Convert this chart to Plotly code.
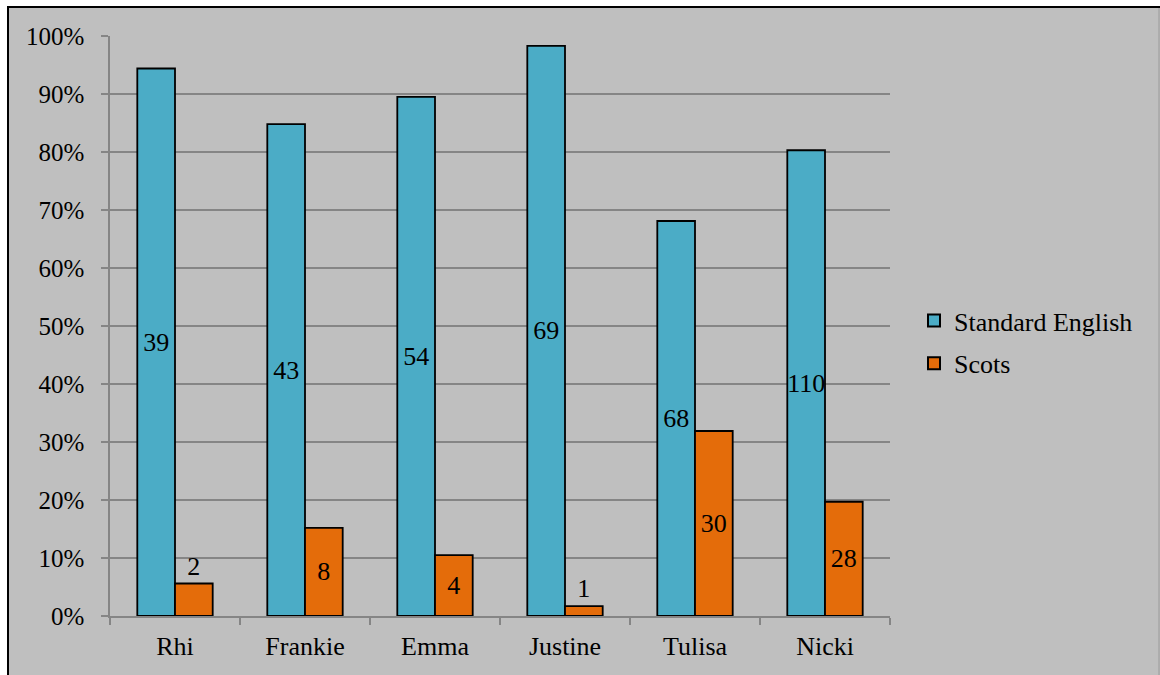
import plotly.graph_objects as go

# Share of each speaker's tokens that are Standard English vs Scots,
# with the raw token counts shown on the bars.
categories = ["Rhi", "Frankie", "Emma", "Justine", "Tulisa", "Nicki"]
standard_english_pct = [94.4, 84.8, 89.5, 98.3, 68.1, 80.3]
scots_pct = [5.6, 15.2, 10.5, 1.7, 31.9, 19.7]
standard_english_counts = [39, 43, 54, 69, 68, 110]
scots_counts = [2, 8, 4, 1, 30, 28]
y_ticks = list(range(0, 101, 10))

FONT = "Liberation Serif"
BG = "#BFBFBF"
GRID = "#858585"
TEAL = "#4BACC6"
ORANGE = "#E46C0A"

# Small Scots bars get their count above the bar instead of inside it
scots_textpos = ["outside" if v < 6 else "inside" for v in scots_pct]

fig = go.Figure()
fig.add_trace(go.Bar(
    name="Standard English", x=categories, y=standard_english_pct,
    text=[str(c) for c in standard_english_counts],
    textposition="inside", insidetextanchor="middle", constraintext="none",
    textangle=0,
    textfont=dict(family=FONT, size=26, color="black"),
    marker=dict(color=TEAL, line=dict(color="black", width=1.8)),
    legendgroup="se",
))
fig.add_trace(go.Bar(
    name="Scots", x=categories, y=scots_pct,
    text=[str(c) for c in scots_counts],
    textposition=scots_textpos, insidetextanchor="middle", constraintext="none",
    textangle=0,
    textfont=dict(family=FONT, size=26, color="black"),
    marker=dict(color=ORANGE, line=dict(color="black", width=1.8)),
    cliponaxis=False,
    legendgroup="sc",
))

# Plot area spans pixels x 110..890, y 36..616 in a 1160x675 page
L, R, T, B = 110, 270, 36, 59
PW, PH = 1160 - L - R, 675 - T - B


def px_x(p):
    return (p - L) / PW


def px_y(p):
    return (675 - B - p) / PH


shapes = [
    dict(type="rect", xref="paper", yref="paper", layer="below",
         x0=px_x(8), x1=px_x(1162), y0=px_y(680), y1=px_y(7),
         fillcolor=BG, line=dict(width=0)),
    dict(type="line", xref="paper", yref="paper",
         x0=px_x(8), x1=px_x(8), y0=px_y(680), y1=px_y(6),
         line=dict(color="black", width=2)),
    dict(type="line", xref="paper", yref="paper",
         x0=px_x(7), x1=px_x(1162), y0=px_y(7), y1=px_y(7),
         line=dict(color="black", width=2)),
    dict(type="line", xref="paper", yref="paper",
         x0=px_x(1159), x1=px_x(1159), y0=px_y(680), y1=px_y(8),
         line=dict(color="#9A9A9A", width=1)),
]

fig.update_layout(
    width=1160, height=675,
    margin=dict(l=L, r=R, t=T, b=B),
    paper_bgcolor="white",
    plot_bgcolor="rgba(0,0,0,0)",
    barmode="group",
    bargap=0.42,
    bargroupgap=0,
    font=dict(family=FONT, size=26, color="black"),
    shapes=shapes,
    showlegend=True,
    legend=dict(
        x=px_x(914), y=px_y(342), xanchor="left", yanchor="middle",
        bgcolor="rgba(0,0,0,0)", font=dict(family=FONT, size=26, color="black"),
        tracegroupgap=6, itemsizing="constant",
    ),
)

fig.update_yaxes(
    range=[0, 100], tickvals=y_ticks, ticktext=[f"{v}%" for v in y_ticks],
    showgrid=True, gridcolor=GRID, gridwidth=1.5,
    showline=True, linecolor=GRID, linewidth=1.5,
    ticks="outside", ticklen=7, tickcolor=GRID, tickwidth=1.5,
    zeroline=False, ticklabelstandoff=12,
    tickfont=dict(family=FONT, size=25, color="black"),
)
fig.update_xaxes(
    showline=True, linecolor=GRID, linewidth=1.5,
    ticks="outside", ticklen=7, tickcolor=GRID, tickwidth=1.5,
    tickson="boundaries", showgrid=False, ticklabelstandoff=6,
    tickfont=dict(family=FONT, size=26, color="black"),
)

fig.write_html("out.html")
